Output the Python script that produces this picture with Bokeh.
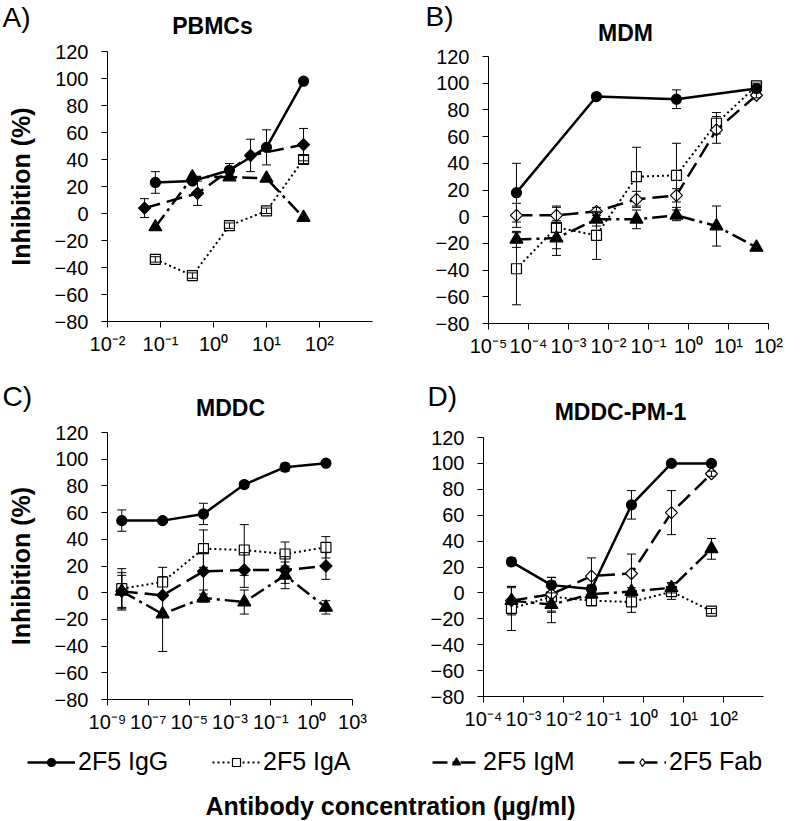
import math
from bokeh.plotting import figure
from bokeh.models import (Range1d, FixedTicker, Whisker, TeeHead, ColumnDataSource,
                          Label, Legend, LegendItem, CustomJSTickFormatter)
from bokeh.layouts import column, row
from bokeh.embed import file_html
from bokeh.resources import INLINE

FONT = "Liberation Sans"

# ---------------- data ----------------
series_names = ["2F5 IgG", "2F5 IgA", "2F5 IgM", "2F5 Fab"]
x_title = "Antibody concentration (µg/ml)"
y_title = "Inhibition (%)"

# A) PBMCs
pbmc_conc = [0.08, 0.4, 2, 10, 50]
pbmc_conc_fab = [0.05, 0.5, 5, 50]
pbmc_igg = [23, 24, 32, 49, 98]
pbmc_igg_err = [8, 0, 5, 13, 0]
pbmc_iga = [-34, -46, -9, 2, 40]
pbmc_iga_err = [2, 2, 2, 2, 3]
pbmc_igm = [-10, 27, 27, 26, -3]
pbmc_igm_err = [0, 0, 0, 0, 0]
pbmc_fab = [4, 15, 43, 51]
pbmc_fab_err = [7, 9, 12, 12]
pbmc_tick_exp = [-2, -1, 0, 1, 2]
pbmc_tick_labels = ["10⁻²", "10⁻¹", "10⁰", "10¹", "10²"]

# B) MDM
mdm_conc = [5e-5, 5e-4, 5e-3, 5e-2, 0.5, 5, 50]
mdm_conc_igg = [5e-5, 5e-3, 0.5, 50]
mdm_igg = [18, 90, 88, 96]
mdm_igg_err = [22, 0, 7, 0]
mdm_iga = [-39, -8, -14, 30, 31, 70, 98]
mdm_iga_err = [27, 16, 18, 22, 24, 8, 2]
mdm_igm = [-17, -16, -2, -2, 1, -7, -23]
mdm_igm_err = [6, 13, 5, 7, 4, 15, 0]
mdm_fab = [1, 1, 4, 13, 16, 65, 91]
mdm_fab_err = [9, 6, 3, 6, 5, 10, 2]
mdm_tick_exp = [-5, -4, -3, -2, -1, 0, 1, 2]
mdm_tick_labels = ["10⁻⁵", "10⁻⁴", "10⁻³", "10⁻²", "10⁻¹", "10⁰", "10¹", "10²"]

# C) MDDC
mddc_conc = [5e-9, 5e-7, 5e-5, 5e-3, 0.5, 50]
mddc_igg = [54, 54, 59, 81, 94, 97]
mddc_igg_err = [8, 0, 8, 2, 3, 0]
mddc_iga = [3, 8, 33, 32, 29, 34]
mddc_iga_err = [15, 11, 14, 19, 9, 8]
mddc_igm = [1, -16, -4, -7, 13, -11]
mddc_igm_err = [12, 28, 3, 9, 10, 5]
mddc_fab = [1, -2, 16, 17, 17, 20]
mddc_fab_err = [14, 0, 14, 13, 10, 10]
mddc_tick_exp = [-9, -7, -5, -3, -1, 1, 3]
mddc_tick_labels = ["10⁻⁹", "10⁻⁷", "10⁻⁵", "10⁻³", "10⁻¹", "10⁰", "10³"]

# D) MDDC-PM-1
pm1_conc = [5e-4, 5e-3, 5e-2, 0.5, 5, 50]
pm1_igg = [24, 6, 3, 68, 100, 100]
pm1_igg_err = [3, 6, 3, 11, 0, 0]
pm1_iga = [-12, -3, -6, -7, 1, -14]
pm1_iga_err = [17, 12, 4, 8, 6, 2]
pm1_igm = [-6, -9, -1, 1, 4, 34]
pm1_igm_err = [10, 14, 3, 3, 4, 8]
pm1_fab = [-6, -1, 13, 15, 62, 92]
pm1_fab_err = [11, 13, 14, 15, 17, 2]
pm1_tick_exp = [-4, -3, -2, -1, 0, 1, 2]
pm1_tick_labels = ["10⁻⁴", "10⁻³", "10⁻²", "10⁻¹", "10⁰", "10¹", "10²"]

# ---------------- styles ----------------
STY = {
    "IgG": dict(dash="solid", lw=2.5, marker="circle", size=10, fill="black", angle=0.0),
    "IgA": dict(dash="2 3", lw=2.0, marker="square", size=10, fill="white", angle=0.0),
    "IgM": dict(dash="15 5 3 5", lw=2.5, marker="triangle", size=13, fill="black", angle=0.0),
    "Fab": dict(dash="16 7", lw=2.5, marker="square", size=8.5, fill="white", angle=math.pi / 4),
}


def blank(w, h):
    f = figure(width=w, height=h, x_range=Range1d(0, w), y_range=Range1d(0, h),
               output_backend="svg", toolbar_location=None, min_border=0,
               x_axis_location=None, y_axis_location=None)
    f.outline_line_color = None
    f.grid.visible = False
    return f


def header(w, h, items):
    f = blank(w, h)
    for text, x, y, size, bold, align in items:
        f.add_layout(Label(x=x, y=h - y, text=text, text_font=FONT,
                           text_font_style="bold" if bold else "normal",
                           text_font_size=size, text_align=align, text_baseline="middle",
                           text_color="black"))
    return f


def make_panel(w, h, L, R, T, B, xlo, xhi, tick_exp, tick_labels, ylabel):
    p = figure(width=w, height=h, x_axis_type="log",
               x_range=Range1d(10.0 ** xlo, 10.0 ** xhi), y_range=Range1d(-80, 120),
               output_backend="svg", toolbar_location=None,
               min_border_left=L, min_border_right=R, min_border_top=T, min_border_bottom=B)
    p.outline_line_color = None
    p.grid.visible = False
    for ax in (p.xaxis[0], p.yaxis[0]):
        ax.axis_line_color = "black"
        ax.axis_line_width = 1
        ax.major_tick_line_color = "black"
        ax.major_tick_line_width = 1
        ax.major_tick_out = 6
        ax.major_tick_in = 0
        ax.minor_tick_line_color = None
        ax.major_label_text_font = FONT
        ax.major_label_text_font_size = "20px"
        ax.major_label_text_color = "black"
    p.yaxis.ticker = FixedTicker(ticks=list(range(-80, 121, 20)))
    p.yaxis.major_label_standoff = 13
    p.xaxis.ticker = FixedTicker(ticks=[10.0 ** k for k in tick_exp], minor_ticks=[])
    p.xaxis.formatter = CustomJSTickFormatter(
        args=dict(exps=tick_exp, labs=tick_labels),
        code="""
        const e = Math.round(Math.log10(tick));
        for (let i = 0; i < exps.length; i++) { if (exps[i] == e) return labs[i]; }
        return "";
        """)
    p.xaxis.major_label_standoff = 5
    if ylabel:
        p.yaxis.axis_label = ylabel
        p.yaxis.axis_label_text_font = FONT
        p.yaxis.axis_label_text_font_style = "bold"
        p.yaxis.axis_label_text_font_size = "25px"
        p.yaxis.axis_label_text_color = "black"
        p.yaxis.axis_label_standoff = 17
    return p


def add_series(p, conc, vals, errs, key, fill=None):
    s = STY[key]
    src = ColumnDataSource(dict(x=conc, y=vals))
    p.line("x", "y", source=src, line_color="black", line_width=s["lw"], line_dash=s["dash"])
    p.scatter("x", "y", source=src, marker=s["marker"], size=s["size"],
              fill_color=fill or s["fill"], line_color="black", line_width=1.2, angle=s["angle"])
    keep = [i for i, e in enumerate(errs) if e > 0]
    if keep:
        esrc = ColumnDataSource(dict(x=[conc[i] for i in keep],
                                     lo=[vals[i] - errs[i] for i in keep],
                                     hi=[vals[i] + errs[i] for i in keep]))
        wk = Whisker(base="x", lower="lo", upper="hi", source=esrc, line_color="black", line_width=1,
                     upper_head=TeeHead(size=9, line_color="black", line_width=1),
                     lower_head=TeeHead(size=9, line_color="black", line_width=1))
        wk.level = "overlay"
        p.add_layout(wk)


# ---------- A ----------
hA = header(400, 39, [("A)", 2, 17, "28px", False, "left"),
                      ("PBMCs", 212, 25, "23px", True, "center")])
pA = make_panel(400, 341, 107, 28, 12, 59, -2, 3, pbmc_tick_exp, pbmc_tick_labels, y_title)
add_series(pA, pbmc_conc, pbmc_iga, pbmc_iga_err, "IgA")
add_series(pA, pbmc_conc_fab, pbmc_fab, pbmc_fab_err, "Fab", fill="black")
add_series(pA, pbmc_conc, pbmc_igm, pbmc_igm_err, "IgM")
add_series(pA, pbmc_conc, pbmc_igg, pbmc_igg_err, "IgG")

# ---------- B ----------
hB = header(400, 45, [("B)", 25, 16, "28px", False, "left"),
                      ("MDM", 225, 32, "23px", True, "center")])
pB = make_panel(400, 335, 88, 32, 11, 57, -5, 2, mdm_tick_exp, mdm_tick_labels, None)
add_series(pB, mdm_conc, mdm_iga, mdm_iga_err, "IgA")
add_series(pB, mdm_conc, mdm_fab, mdm_fab_err, "Fab")
add_series(pB, mdm_conc, mdm_igm, mdm_igm_err, "IgM")
add_series(pB, mdm_conc_igg, mdm_igg, mdm_igg_err, "IgG")

# ---------- C ----------
hC = header(400, 40, [("C)", 2, 16, "28px", False, "left"),
                      ("MDDC", 230, 27, "23px", True, "center")])
pC = make_panel(400, 320, 107, 48, 12, 41, -9, 3, mddc_tick_exp, mddc_tick_labels, y_title)
add_series(pC, mddc_conc, mddc_iga, mddc_iga_err, "IgA")
add_series(pC, mddc_conc, mddc_fab, mddc_fab_err, "Fab", fill="black")
add_series(pC, mddc_conc, mddc_igm, mddc_igm_err, "IgM")
add_series(pC, mddc_conc, mddc_igg, mddc_igg_err, "IgG")

# ---------- D ----------
hD = header(400, 45, [("D)", 27, 16, "28px", False, "left"),
                      ("MDDC-PM-1", 220, 31, "23px", True, "center")])
pD = make_panel(400, 315, 83, 37, 12, 44, -4, 3, pm1_tick_exp, pm1_tick_labels, None)
add_series(pD, pm1_conc, pm1_iga, pm1_iga_err, "IgA")
add_series(pD, pm1_conc, pm1_fab, pm1_fab_err, "Fab")
add_series(pD, pm1_conc, pm1_igm, pm1_igm_err, "IgM")
add_series(pD, pm1_conc, pm1_igg, pm1_igg_err, "IgG")

# ---------- legend strip + shared x title ----------
LW, LH = 800, 81
pL = blank(LW, LH)
legend_x = [27, 212, 432, 618]
legend_marker = {"IgG": "circle", "IgA": "square", "IgM": "triangle", "Fab": "diamond"}
nan = float("nan")
for name, key, lx in zip(series_names, ["IgG", "IgA", "IgM", "Fab"], legend_x):
    s = STY[key]
    src = ColumnDataSource(dict(x=[nan], y=[nan]))
    r1 = pL.line("x", "y", source=src, line_color="black", line_width=s["lw"], line_dash=s["dash"])
    r2 = pL.scatter("x", "y", source=src, marker=legend_marker[key], size=s["size"],
                    fill_color=s["fill"], line_color="black", line_width=1.2)
    lg = Legend(items=[LegendItem(label=name, renderers=[r1, r2])], location=(lx, 45),
                orientation="horizontal", padding=0, margin=0, border_line_color=None,
                background_fill_alpha=0, glyph_width=48, glyph_height=20, label_standoff=3,
                label_text_font=FONT, label_text_font_size="25px", label_text_color="black")
    pL.add_layout(lg)

pL.add_layout(Label(x=390, y=16, text=x_title, text_font=FONT, text_font_style="bold",
                    text_font_size="25px", text_align="center", text_baseline="middle",
                    text_color="black"))

layout = column(row(column(column(hA), column(pA)), column(column(hB), column(pB))),
                row(column(column(hC), column(pC)), column(column(hD), column(pD))),
                pL)
open("out.html", "w").write(file_html(layout, INLINE))
